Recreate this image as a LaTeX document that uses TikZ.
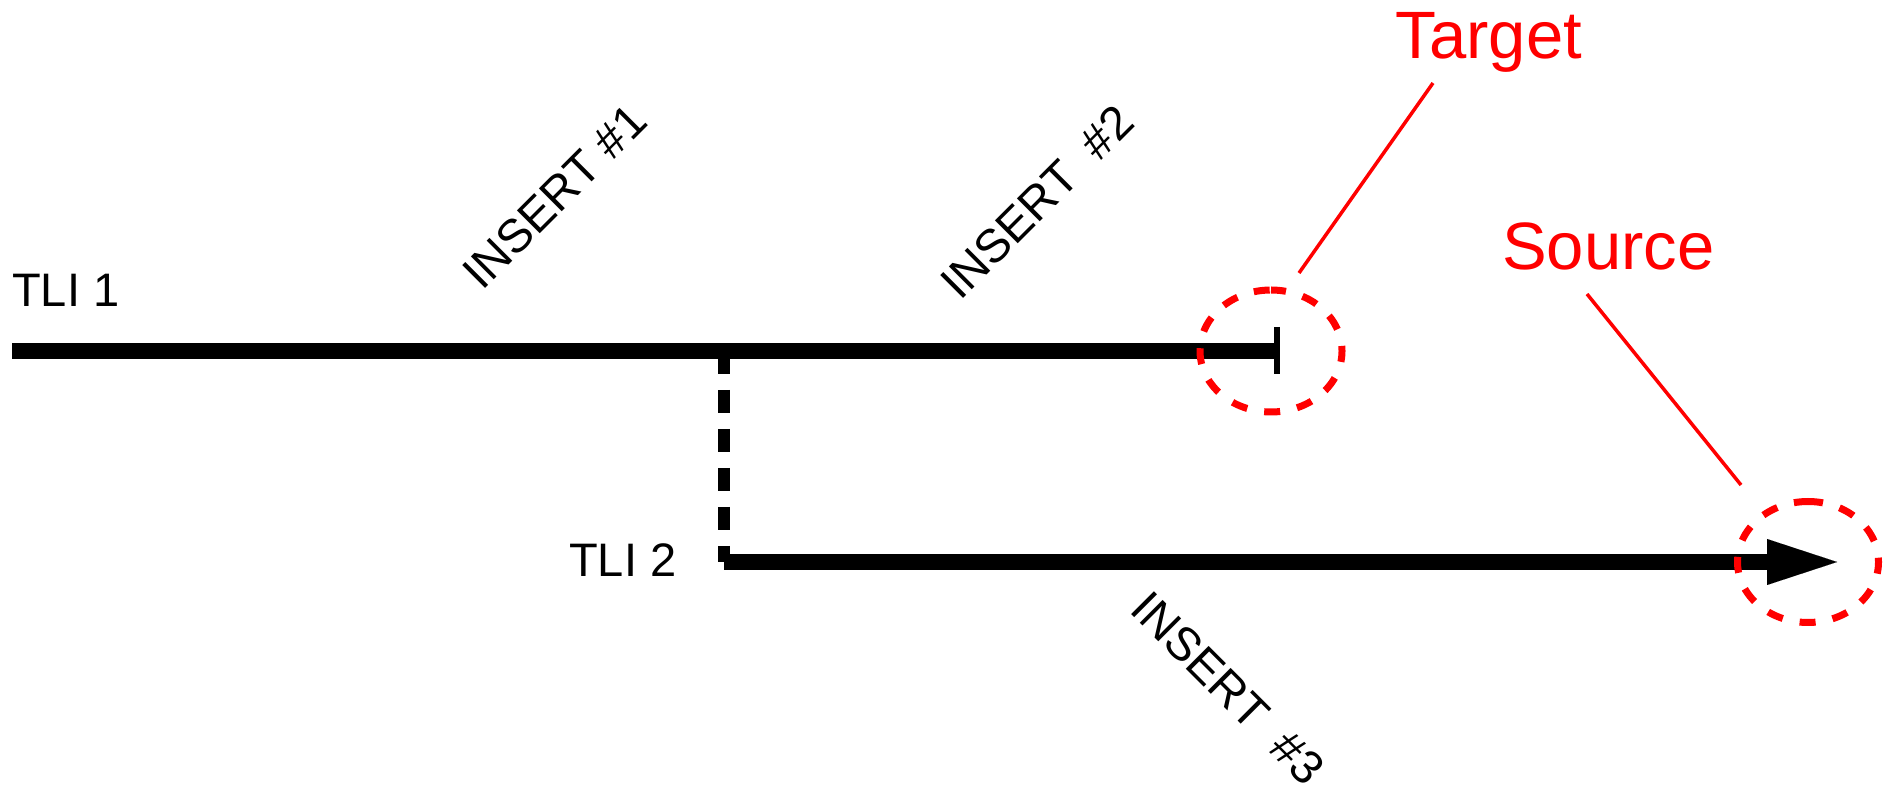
\documentclass[tikz,border=0pt]{standalone}
\usepackage{fontspec}
\setmainfont{Liberation Sans}
\usetikzlibrary{arrows.meta}

\definecolor{markred}{RGB}{255,0,0}

\tikzset{
  lbl/.style={inner sep=0pt, font=\fontsize{47}{56}\selectfont, text=black},
  redlbl/.style={inner sep=0pt, font=\fontsize{67}{80}\selectfont, text=markred},
  tline/.style={line width=16pt, black},
  endbar/.style={line width=6pt, black},
  dashline/.style={line width=12pt, black, dash pattern=on 23.5pt off 15.5pt},
  ring/.style={line width=7pt, markred, dash pattern=on 16pt off 17.25pt, dash phase=1pt},
  pointer/.style={line width=3.5pt, markred},
}

\begin{document}
\begin{tikzpicture}[x=1pt, y=1pt]
  \useasboundingbox (0,0) rectangle (1890,798);

  % timeline anchor points
  \coordinate (a1) at (12,447);
  \coordinate (a2) at (1277,447);
  \coordinate (bar1) at (1277,471);
  \coordinate (bar2) at (1277,424);
  \coordinate (j1) at (723.5,447);
  \coordinate (j2) at (723.5,236);
  \coordinate (b2) at (1837,236);

  % circle centres
  \coordinate (tc) at (1271,447);
  \coordinate (sc) at (1808,236);

  % branch between the two timelines
  \draw[dashline] (j1) -- (j2);

  % TLI 1 with its end bar
  \draw[tline] (a1) -- (a2);
  \draw[endbar] (bar1) -- (bar2);

  % TLI 2 with its arrow
  \draw[tline, -{Triangle[length=70pt, width=46pt, line width=0.01pt]}] (j2) -- (b2);

  % timeline labels
  \node[lbl, anchor=base west] (tli1) at (12,491) {TLI 1};
  \node[lbl, anchor=base west] (tli2) at (569,221) {TLI 2};

  % insert labels
  \node[lbl, rotate=45, anchor=base west] (ins1) at (482,506) {INSERT \#1};
  \node[lbl, rotate=45, anchor=base west] (ins2) at (960,496) {INSERT\ \ \#2};
  \node[lbl, rotate=-45, anchor=base west] (ins3) at (1128,187) {INSERT\ \ \#3};

  % dashed rings around the end points
  \draw[ring] (tc) ++(0,61) arc[start angle=90, end angle=-270, x radius=71, y radius=61];
  \draw[ring] (sc) ++(0,60.5) arc[start angle=90, end angle=-270, x radius=70.5, y radius=60.5];

  % red callouts
  \node[redlbl, anchor=base west] (target) at (1395.5,739) {Target};
  \node[redlbl, anchor=base west] (source) at (1502,528) {Source};
  \coordinate (tp1) at (1433,715);
  \coordinate (tp2) at (1299,525);
  \coordinate (sp1) at (1587,504);
  \coordinate (sp2) at (1741,313);
  \draw[pointer] (tp1) -- (tp2);
  \draw[pointer] (sp1) -- (sp2);
\end{tikzpicture}
\end{document}
